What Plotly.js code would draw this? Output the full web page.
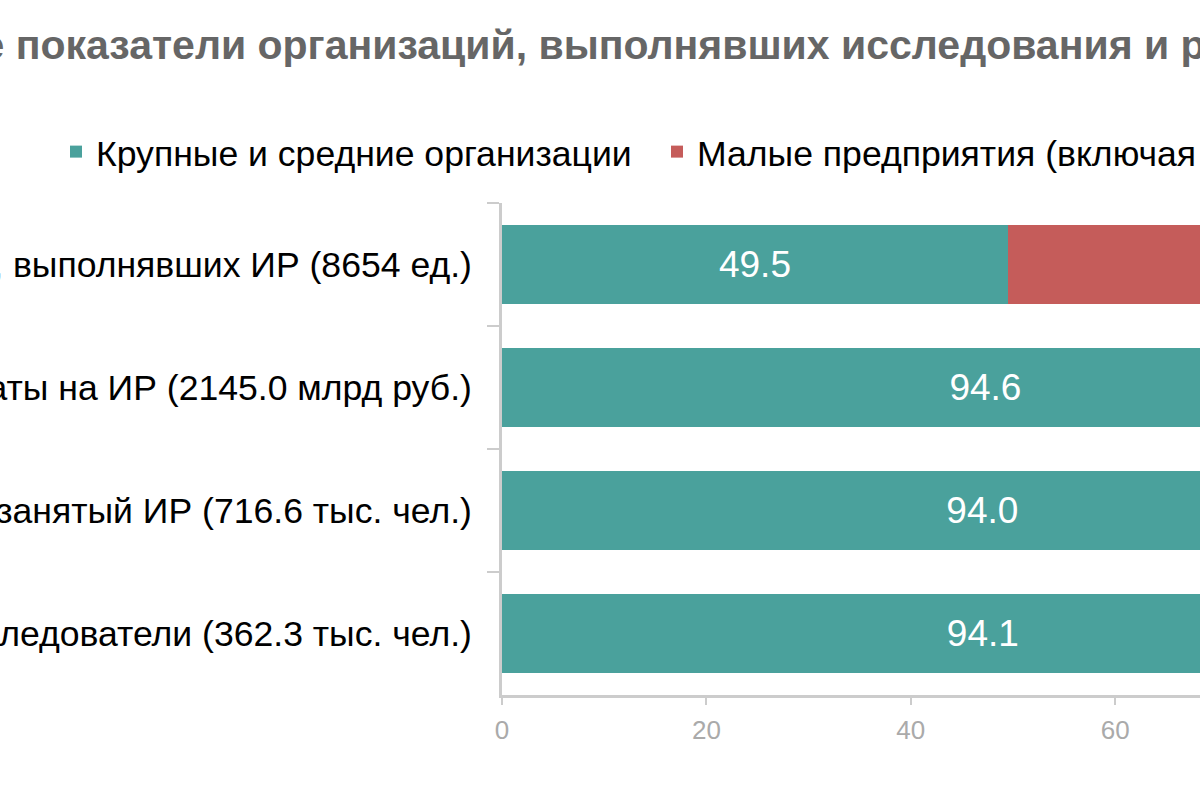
<!DOCTYPE html>
<html>
<head>
<meta charset="utf-8">
<script src="https://cdn.plot.ly/plotly-3.0.1.min.js"></script>
<style>
  html, body { margin: 0; padding: 0; width: 1200px; height: 800px; overflow: hidden; background: #fff; }
  /* the reference shows only a crop of a wider chart */
  #chart { position: absolute; left: -400px; top: 0; width: 2300px; height: 800px; }
</style>
</head>
<body>
<div id="chart"></div>
<script>
// categories, top to bottom
var categories = [
  "Число организаций, выполнявших ИР (8654 ед.)",
  "Внутренние затраты на ИР (2145.0 млрд руб.)",
  "Персонал, занятый ИР (716.6 тыс. чел.)",
  "Исследователи (362.3 тыс. чел.)"
];
var largeMedium = [49.5, 94.6, 94.0, 94.1];
var smallFirms = [50.5, 5.4, 6.0, 5.9];
var seriesNames = ["Крупные и средние организации", "Малые предприятия (включая микропредприятия)"];
var xTicks = [0, 20, 40, 60, 80, 100];

var teal = "#4aa19c";
var red = "#c55c5a";
var fontFamily = "Liberation Sans, Arial, sans-serif";

function fmt(v) { return v.toFixed(1); }

function makeTrace(name, values, color) {
  return {
    type: "bar",
    orientation: "h",
    name: name,
    y: categories,
    x: values,
    text: values.map(fmt),
    textposition: "inside",
    insidetextanchor: "middle",
    textangle: 0,
    textfont: { color: "#fff", size: 37, family: fontFamily },
    marker: { color: color },
    hoverinfo: "x+name"
  };
}

var data = [
  makeTrace(seriesNames[0], largeMedium, teal),
  makeTrace(seriesNames[1], smallFirms, red)
];

var layout = {
  width: 2300,
  height: 800,
  margin: { l: 902, r: 376, t: 203, b: 105 },
  paper_bgcolor: "#fff",
  plot_bgcolor: "#fff",
  font: { family: fontFamily, color: "#000" },
  barmode: "stack",
  bargap: 0.35,
  title: {
    text: "<b>Основные показатели организаций, выполнявших исследования и разработки</b>",
    font: { size: 41, color: "#666" },
    xref: "container",
    x: 0.0835,
    xanchor: "left",
    yref: "container",
    y: 1 - 45 / 800,
    yanchor: "middle"
  },
  showlegend: true,
  legend: {
    orientation: "h",
    traceorder: "normal",
    xref: "paper",
    x: -0.4364,
    xanchor: "left",
    yref: "paper",
    y: 1.1037,
    yanchor: "middle",
    entrywidth: 556,
    entrywidthmode: "pixels",
    font: { size: 35.6, color: "#000" },
    itemclick: false
  },
  xaxis: {
    range: [0, 100],
    tickvals: xTicks,
    ticks: "outside",
    ticklen: 7,
    tickwidth: 2,
    tickcolor: "#ccc",
    showline: true,
    linecolor: "#ccc",
    linewidth: 3,
    showgrid: false,
    zeroline: false,
    ticklabelstandoff: 3,
    tickfont: { size: 26, color: "#aaa" }
  },
  yaxis: {
    type: "category",
    autorange: "reversed",
    ticks: "outside",
    tickson: "boundaries",
    ticklen: 12,
    tickwidth: 2,
    tickcolor: "#ccc",
    showline: true,
    linecolor: "#ccc",
    linewidth: 3,
    showgrid: false,
    zeroline: false,
    ticklabelstandoff: 20,
    tickfont: { size: 35.6, color: "#000" }
  }
};

Plotly.newPlot("chart", data, layout, { displayModeBar: false, staticPlot: true });
</script>
</body>
</html>
